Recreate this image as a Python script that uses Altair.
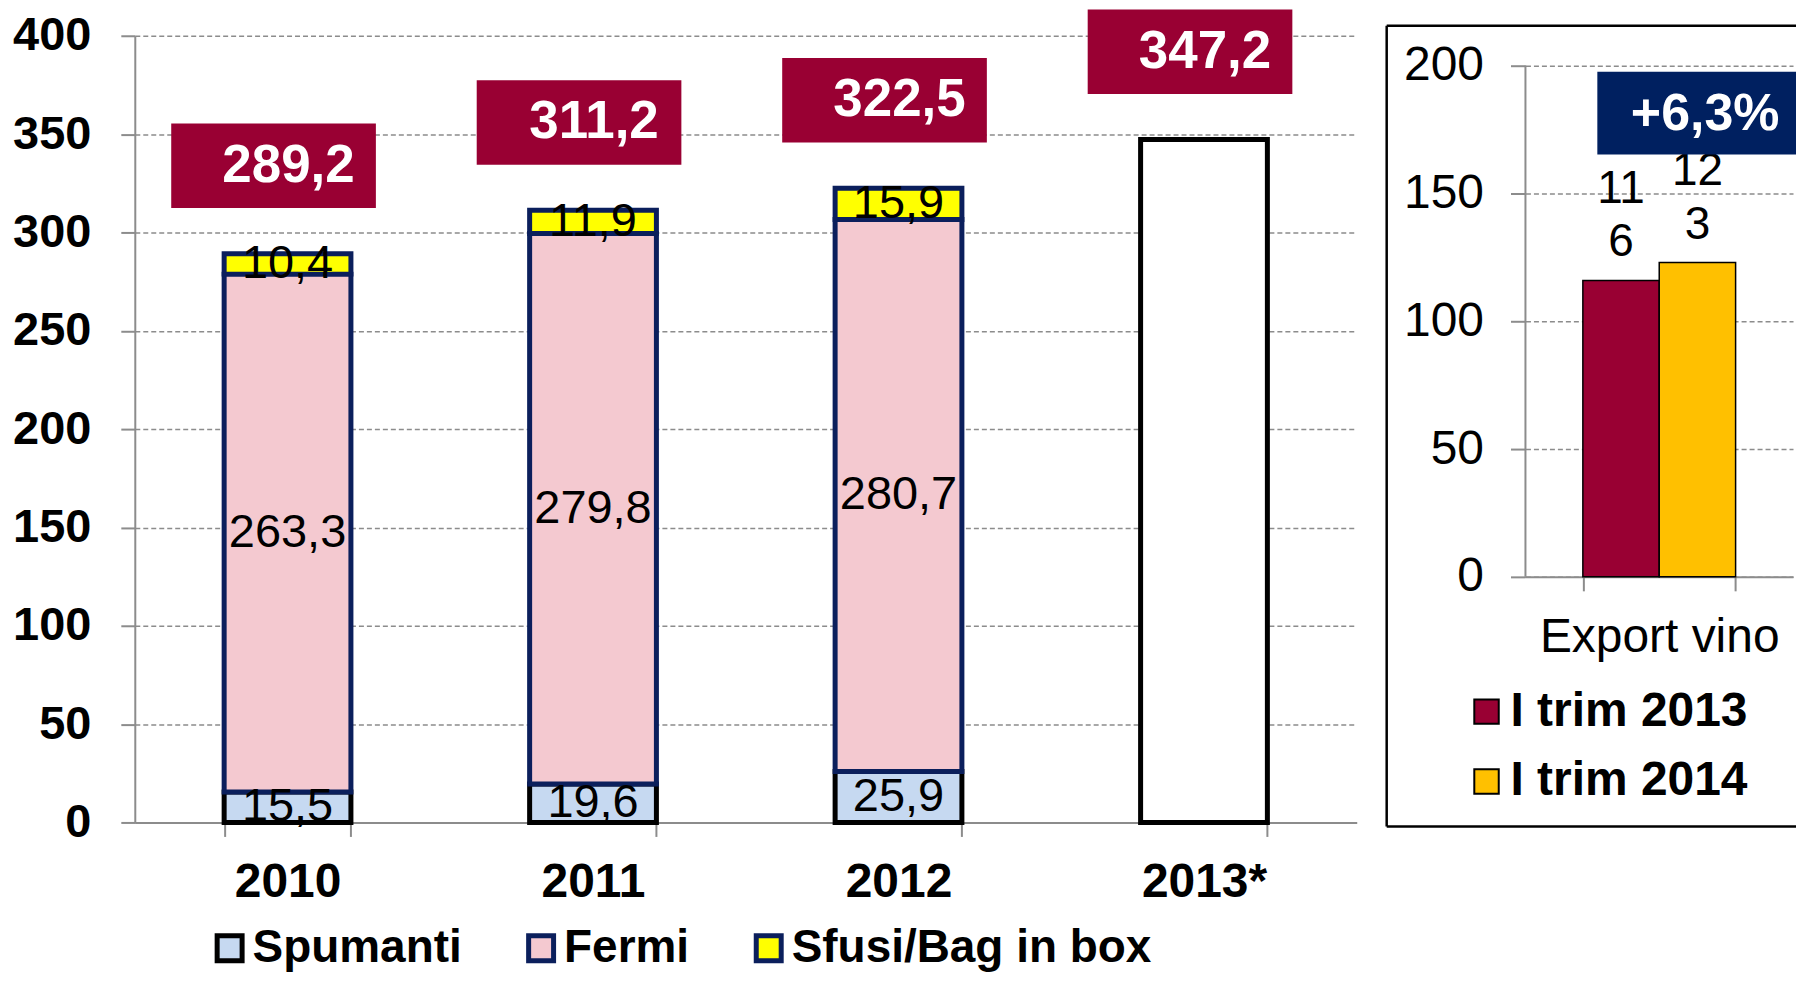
import altair as alt
import pandas as pd

# ---------------- data ----------------
years = ["2010", "2011", "2012"]
series_names = ["Spumanti", "Fermi", "Sfusi/Bag in box"]
spumanti = [15.5, 19.6, 25.9]
fermi = [263.3, 279.8, 280.7]
sfusi = [10.4, 11.9, 15.9]

all_years = ["2010", "2011", "2012", "2013*"]
totals = [289.2, 311.2, 322.5, 347.2]
year_2013 = ["2013*"]
total_2013 = [347.2]

export_cat = ["Export vino", "Export vino"]
export_series = ["I trim 2013", "I trim 2014"]
export_values = [116, 123]
change_label = ["+6,3%"]

# ---------------- style ----------------
FONT = "Liberation Sans"
GRID = "#8c8c8c"
NAVY = "#0b1f5c"
CRIMSON = "#990033"
W_L, H_L = 1224, 788
W_R, H_R = 268, 542
R_TOP = 30  # empty space above the 200 line of the right panel
R_MAX = 200 * H_R / (H_R - R_TOP)

rows = []
for name, vals in zip(series_names, [spumanti, fermi, sfusi]):
    for y, v in zip(years, vals):
        rows.append({"year": y, "series": name, "value": v})
df_stack = pd.DataFrame(rows)
tot_df = pd.DataFrame({"year": all_years, "total": totals})
df2013 = pd.DataFrame({"year": year_2013, "total": total_2013})

xscale = alt.Scale(domain=all_years, paddingInner=0.585, paddingOuter=0.2925)
yscale = alt.Scale(domain=[0, 400], nice=False)

x_axis = alt.Axis(title=None, labelFontSize=48, labelFontWeight="bold", labelColor="black",
                  labelAngle=0, tickBand="extent", tickSize=14, tickColor=GRID, tickWidth=2,
                  domainColor=GRID, domainWidth=2, labelPadding=22, grid=False, labelLimit=400)
y_axis = alt.Axis(title=None, values=list(range(0, 401, 50)), labelFontSize=47,
                  labelFontWeight="bold", labelColor="black", tickSize=14, tickColor=GRID,
                  tickWidth=2, domainColor=GRID, domainWidth=2, labelPadding=30, grid=True,
                  gridColor=GRID, gridDash=[5, 3], gridWidth=1.5)

leg_left = alt.Legend(orient="none", legendX=72, legendY=891, direction="horizontal", columns=3,
                      title=None, labelFontSize=46, labelFontWeight="bold", labelColor="black",
                      symbolType="square", symbolSize=625, symbolStrokeWidth=5, labelOffset=0,
                      columnPadding=56, padding=0, labelLimit=600)

base_stack = alt.Chart(df_stack).transform_calculate(
    ord="indexof(['Spumanti','Fermi','Sfusi/Bag in box'], datum.series)"
).transform_stack(
    stack="value", groupby=["year"], as_=["y0", "y1"], sort=[alt.SortField("ord", order="ascending")]
)

bars = base_stack.mark_bar(strokeWidth=5).encode(
    x=alt.X("year:N", scale=xscale, axis=x_axis),
    y=alt.Y("y0:Q", scale=yscale, axis=y_axis),
    y2="y1:Q",
    color=alt.Color("series:N", scale=alt.Scale(domain=series_names,
                                                range=["#c6d9f1", "#f4c9d0", "#ffff00"]),
                    legend=leg_left),
    stroke=alt.Stroke("series:N", scale=alt.Scale(domain=series_names,
                                                  range=["black", NAVY, NAVY]),
                      legend=leg_left),
)

seg_labels = base_stack.transform_calculate(
    mid="(datum.y0 + datum.y1) / 2",
    lbl="replace(format(datum.value, '.1f'), '.', ',')"
).mark_text(fontSize=47, color="black", baseline="middle", font=FONT).encode(
    x=alt.X("year:N", scale=xscale, axis=x_axis),
    y=alt.Y("mid:Q", scale=yscale, axis=y_axis),
    text="lbl:N",
)

bar2013 = alt.Chart(df2013).mark_bar(fill="white", stroke="black", strokeWidth=5).encode(
    x=alt.X("year:N", scale=xscale, axis=x_axis),
    y=alt.Y("total:Q", scale=yscale, axis=y_axis),
)

boxes = alt.Chart(tot_df).transform_calculate(
    lo="datum.total + 23.2", hi="datum.total + 66.2"
).mark_bar(width=205, xOffset=-14, color=CRIMSON).encode(
    x=alt.X("year:N", scale=xscale, axis=x_axis),
    y=alt.Y("lo:Q", scale=yscale, axis=y_axis),
    y2="hi:Q",
)

box_text = alt.Chart(tot_df).transform_calculate(
    mid="datum.total + 44.7",
    lbl="replace(format(datum.total, '.1f'), '.', ',')"
).mark_text(fontSize=53, fontWeight="bold", color="white", baseline="middle", xOffset=1,
            font=FONT).encode(
    x=alt.X("year:N", scale=xscale, axis=x_axis),
    y=alt.Y("mid:Q", scale=yscale, axis=y_axis),
    text="lbl:N",
)

left = alt.layer(bars, bar2013, seg_labels, boxes, box_text).properties(width=W_L, height=H_L)

# ---------------- right panel ----------------
ex_df = pd.DataFrame({"cat": export_cat, "series": export_series, "value": export_values})
rx = alt.Scale(domain=["Export vino"], paddingInner=0.45, paddingOuter=0.2067)
ry = alt.Scale(domain=[0, R_MAX], nice=False, zero=True)
rx_axis = alt.Axis(title=None, labelFontSize=48, labelColor="black", labelAngle=0,
                   tickBand="extent", tickSize=14, tickColor=GRID, tickWidth=2,
                   domainColor=GRID, domainWidth=2, labelPadding=23, grid=False, labelLimit=500)
ry_axis = alt.Axis(title=None, values=[0, 50, 100, 150, 200], labelFontSize=48,
                   labelColor="black", tickSize=15, tickColor=GRID, tickWidth=2,
                   domain=False, labelPadding=27, grid=True,
                   gridColor=GRID, gridDash=[5, 3], gridWidth=1.5)
leg_right = alt.Legend(orient="none", legendX=-63, legendY=653, direction="vertical", title=None,
                       labelFontSize=48, labelFontWeight="bold", labelColor="black",
                       symbolType="square", symbolSize=600, symbolStrokeColor="black",
                       symbolStrokeWidth=2, rowPadding=22, labelOffset=0, padding=0,
                       labelLimit=600)
xoff = alt.XOffset("series:N", scale=alt.Scale(domain=export_series, paddingInner=0, paddingOuter=0))

yaxis_line = alt.Chart(pd.DataFrame({"lo": [0], "hi": [200]})).mark_rule(
    color=GRID, strokeWidth=2).encode(
    x=alt.value(0),
    y=alt.Y("lo:Q", scale=ry, axis=ry_axis),
    y2="hi:Q",
)

rbars = alt.Chart(ex_df).mark_bar(stroke="black", strokeWidth=1.5).encode(
    x=alt.X("cat:N", scale=rx, axis=rx_axis),
    xOffset=xoff,
    y=alt.Y("value:Q", scale=ry, axis=ry_axis),
    color=alt.Color("series:N", scale=alt.Scale(domain=export_series, range=[CRIMSON, "#ffc000"]),
                    legend=leg_right),
)

rtext = alt.Chart(ex_df).transform_calculate(
    lbl="slice(toString(datum.value), 0, 2) + '\\n' + slice(toString(datum.value), 2)"
).mark_text(lineBreak="\n", baseline="bottom", dy=-68, lineHeight=54, fontSize=46,
            color="black", font=FONT).encode(
    x=alt.X("cat:N", scale=rx, axis=rx_axis),
    xOffset=xoff,
    y=alt.Y("value:Q", scale=ry, axis=ry_axis),
    text="lbl:N",
)

one = pd.DataFrame({"lbl": change_label})
chg_box = alt.Chart(one).mark_rect(color="#002060").encode(
    x=alt.value(72), x2=alt.value(285), y=alt.value(36), y2=alt.value(119))
chg_text = alt.Chart(one).mark_text(fontSize=52, fontWeight="bold", color="white",
                                    baseline="middle", font=FONT).encode(
    x=alt.value(180), y=alt.value(78), text="lbl:N")

frame_top = alt.Chart(one).mark_rule(color="black", strokeWidth=2.5).encode(
    x=alt.value(-139), x2=alt.value(285), y=alt.value(-10))
frame_left = alt.Chart(one).mark_rule(color="black", strokeWidth=2.5).encode(
    x=alt.value(-139), y=alt.value(-10), y2=alt.value(792))
frame_bottom = alt.Chart(one).mark_rule(color="black", strokeWidth=2.5).encode(
    x=alt.value(-139), x2=alt.value(285), y=alt.value(792))

right = alt.layer(frame_top, frame_left, frame_bottom, yaxis_line, rbars, rtext, chg_box, chg_text
                  ).properties(width=W_R, height=H_R)

chart = alt.hconcat(left, right, spacing=28).resolve_scale(
    color="independent", stroke="independent"
).resolve_legend(color="independent", stroke="independent").properties(
    padding={"left": 4, "top": 0, "right": -16, "bottom": 2}
).configure(font=FONT).configure_view(strokeWidth=0)

chart.save("out.html", embed_options={"renderer": "svg", "actions": False})
